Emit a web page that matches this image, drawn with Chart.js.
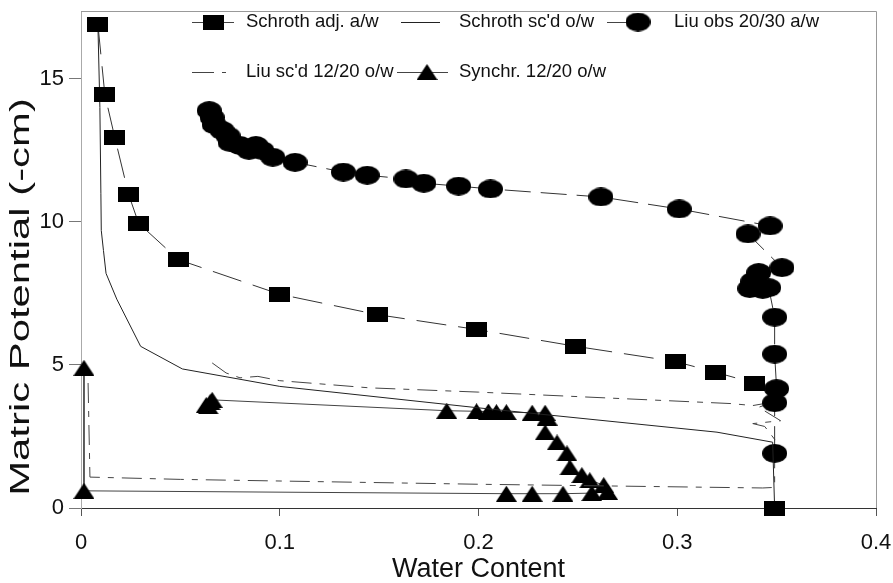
<!DOCTYPE html>
<html>
<head>
<meta charset="utf-8">
<script src="https://cdn.jsdelivr.net/npm/chart.js@4"></script>
<style>
  html, body { margin: 0; background: #fff; }
  #wrap { width: 893px; height: 583px; }
</style>
</head>
<body>
<div id="wrap"><canvas id="mpChart" width="893" height="583"></canvas></div>
<script>
// axis ticks
const xTicks = [0, 0.1, 0.2, 0.3, 0.4];
const yTicks = [0, 5, 10, 15];
const yTitle = 'Matric Potential (-cm)';

// [water content, matric potential]
const schrothAdj = [
  [0.0085, 16.9], [0.012, 14.45], [0.017, 12.95], [0.024, 10.95], [0.029, 9.95],
  [0.049, 8.68], [0.100, 7.47], [0.149, 6.76], [0.199, 6.24], [0.249, 5.65],
  [0.299, 5.12], [0.319, 4.75], [0.339, 4.36], [0.349, 0.0]
];
const schrothScd = [
  [0.0085, 16.9], [0.0095, 14.0], [0.0100, 11.0], [0.0102, 9.7], [0.0113, 9.0],
  [0.0126, 8.2], [0.018, 7.3], [0.030, 5.65], [0.051, 4.86], [0.100, 4.25],
  [0.200, 3.5], [0.320, 2.65], [0.348, 2.3], [0.349, 0.0]
];
const liuObs = [
  [0.0645, 13.89], [0.066, 13.65], [0.067, 13.4], [0.071, 13.2], [0.074, 13.0],
  [0.075, 12.78], [0.080, 12.67], [0.0845, 12.5], [0.088, 12.67], [0.091, 12.5],
  [0.0965, 12.26], [0.1077, 12.08], [0.132, 11.74], [0.144, 11.63], [0.1635, 11.5],
  [0.1725, 11.35], [0.190, 11.25], [0.206, 11.15], [0.2616, 10.87], [0.301, 10.45],
  [0.3467, 9.86], [0.3356, 9.58], [0.3527, 8.40], [0.341, 8.23], [0.338, 7.92],
  [0.3365, 7.67], [0.343, 7.64], [0.346, 7.7], [0.349, 6.67], [0.349, 5.38],
  [0.350, 4.17], [0.349, 3.68], [0.349, 1.91]
];
const liuScd = [
  [0.066, 5.07], [0.073, 4.72], [0.080, 4.55], [0.089, 4.6], [0.100, 4.45],
  [0.120, 4.34], [0.145, 4.2], [0.200, 4.05], [0.327, 3.65], [0.338, 3.58],
  [0.348, 3.70], [0.341, 3.52], [0.352, 3.05], [0.338, 2.95], [0.344, 2.85],
  [0.349, 2.4], [0.349, 0.72], [0.343, 0.70], [0.200, 0.83], [0.050, 1.0],
  [0.0045, 1.08], [0.0035, 4.6]
];
const synchr = [
  [0.0015, 4.9], [0.0015, 0.6], [0.214, 0.5], [0.227, 0.5], [0.2425, 0.5],
  [0.257, 0.52], [0.265, 0.56], [0.263, 0.80], [0.256, 0.97], [0.252, 1.15],
  [0.246, 1.42], [0.2445, 1.91], [0.2395, 2.29], [0.2335, 2.64], [0.2345, 3.16],
  [0.2335, 3.33], [0.227, 3.33], [0.214, 3.35], [0.209, 3.35], [0.205, 3.37],
  [0.199, 3.38], [0.184, 3.4], [0.066, 3.78], [0.065, 3.7], [0.063, 3.6], [0.064, 3.55]
];

const FONT = '"Liberation Sans", Arial, sans-serif';

function marker(shape, w, h) {
  const c = document.createElement('canvas');
  c.width = w; c.height = h;
  const g = c.getContext('2d');
  g.fillStyle = '#000';
  g.beginPath();
  if (shape === 'rect') g.rect(0, 0, w, h);
  else if (shape === 'ellipse') g.ellipse(w / 2, h / 2, w / 2, h / 2, 0, 0, Math.PI * 2);
  else { g.moveTo(w / 2, 0); g.lineTo(w, h); g.lineTo(0, h); g.closePath(); }
  g.fill();
  return c;
}
const squareMark = marker('rect', 21, 15);
const circleMark = marker('ellipse', 25, 19);
const triMark = marker('tri', 21, 16);

const toXY = pts => pts.map(([x, y]) => ({ x, y }));

function series(label, pts, opts) {
  return Object.assign({
    label,
    data: toXY(pts),
    showLine: true,
    borderWidth: 1,
    borderColor: '#333',
    pointRadius: 0,
    clip: false
  }, opts);
}

const datasets = [
  series('Schroth adj. a/w', schrothAdj, {
    borderDash: [30, 12], pointStyle: squareMark, pointRadius: 10,
    segment: { borderColor: c => c.p1DataIndex === schrothAdj.length - 1 ? 'rgba(0,0,0,0)' : '#333' }
  }),
  series("Schroth sc'd o/w", schrothScd, { borderColor: '#222' }),
  series('Liu obs 20/30 a/w', liuObs, { borderDash: [26, 10], pointStyle: circleMark, pointRadius: 10 }),
  series("Liu sc'd 12/20 o/w", liuScd, { borderColor: '#444', borderDash: [20, 8, 6, 8] }),
  series('Synchr. 12/20 o/w', synchr, { borderColor: '#444', pointStyle: triMark, pointRadius: 10 })
];

// legend drawn inside the plot area, two rows like the original
const legendSlots = [
  { ds: 0, x0: 192, x1: 234, cx: 213, tx: 246, y: 22 },
  { ds: 1, x0: 401, x1: 440, cx: null, tx: 459, y: 22 },
  { ds: 2, x0: 607, x1: 640, cx: 638, tx: 674, y: 22 },
  { ds: 3, x0: 192, x1: 226, cx: null, tx: 246, y: 72 },
  { ds: 4, x0: 397, x1: 448, cx: 427, tx: 459, y: 72 }
];

const framePlugin = {
  id: 'frame',
  beforeDatasetsDraw(chart) {
    const { ctx, chartArea: a } = chart;
    ctx.save();
    ctx.strokeStyle = '#999';
    ctx.lineWidth = 1;
    ctx.beginPath();
    ctx.moveTo(a.left, a.top + 0.5);
    ctx.lineTo(a.right + 0.5, a.top + 0.5);
    ctx.lineTo(a.right + 0.5, a.bottom);
    ctx.stroke();
    ctx.restore();
  },
  afterDatasetsDraw(chart) {
    const ctx = chart.ctx;
    ctx.save();
    ctx.font = '18.5px ' + FONT;
    ctx.textBaseline = 'middle';
    ctx.fillStyle = '#111';
    legendSlots.forEach(s => {
      const ds = chart.data.datasets[s.ds];
      ctx.strokeStyle = ds.borderColor === '#222' ? '#222' : '#444';
      ctx.lineWidth = 1;
      ctx.setLineDash(s.ds === 3 ? [22, 8, 4, 8] : []);
      ctx.beginPath();
      ctx.moveTo(s.x0, s.y + 0.5);
      ctx.lineTo(s.x1, s.y + 0.5);
      ctx.stroke();
      if (s.cx !== null && ds.pointStyle) {
        const m = ds.pointStyle;
        ctx.drawImage(m, s.cx - m.width / 2, s.y - m.height / 2);
      }
      ctx.fillText(ds.label, s.tx, s.y);
    });
    ctx.restore();

    // y title: the original lettering is drawn tall and narrow
    ctx.save();
    ctx.font = '27px ' + FONT;
    ctx.fillStyle = '#111';
    ctx.textAlign = 'center';
    ctx.textBaseline = 'middle';
    ctx.translate(22, 297);
    ctx.rotate(-Math.PI / 2);
    ctx.scale(1.55, 1);
    ctx.fillText(yTitle, 0, 0);
    ctx.restore();
  }
};

new Chart(document.getElementById('mpChart'), {
  type: 'scatter',
  data: { datasets },
  options: {
    responsive: false,
    animation: false,
    layout: { padding: { left: 0, right: 17, top: 7, bottom: 0 } },
    elements: { line: { tension: 0 } },
    plugins: { legend: { display: false }, tooltip: { enabled: false } },
    scales: {
      x: {
        type: 'linear', min: 0, max: 0.4,
        afterBuildTicks: s => { s.ticks = xTicks.map(v => ({ value: v })); },
        afterFit: s => { s.height = 75; s.paddingLeft = 0; s.paddingRight = 0; },
        grid: { drawOnChartArea: false, tickLength: 8, color: '#555' },
        border: { color: '#333', width: 1 },
        ticks: { color: '#111', font: { family: FONT, size: 22 }, padding: 14 },
        title: { display: true, text: 'Water Content', color: '#111', font: { family: FONT, size: 27, lineHeight: 1.0 }, padding: { top: 0, bottom: 0 } }
      },
      y: {
        type: 'linear', min: 0, max: 17.37,
        afterBuildTicks: s => { s.ticks = yTicks.map(v => ({ value: v })); },
        afterFit: s => { s.width = 81; s.paddingTop = 0; s.paddingBottom = 0; },
        grid: { drawOnChartArea: false, tickLength: 12, color: '#777' },
        border: { color: '#aaa', width: 1 },
        ticks: { color: '#111', font: { family: FONT, size: 22 }, padding: 5 },
        title: { display: false }
      }
    }
  },
  plugins: [framePlugin]
});
</script>
</body>
</html>
